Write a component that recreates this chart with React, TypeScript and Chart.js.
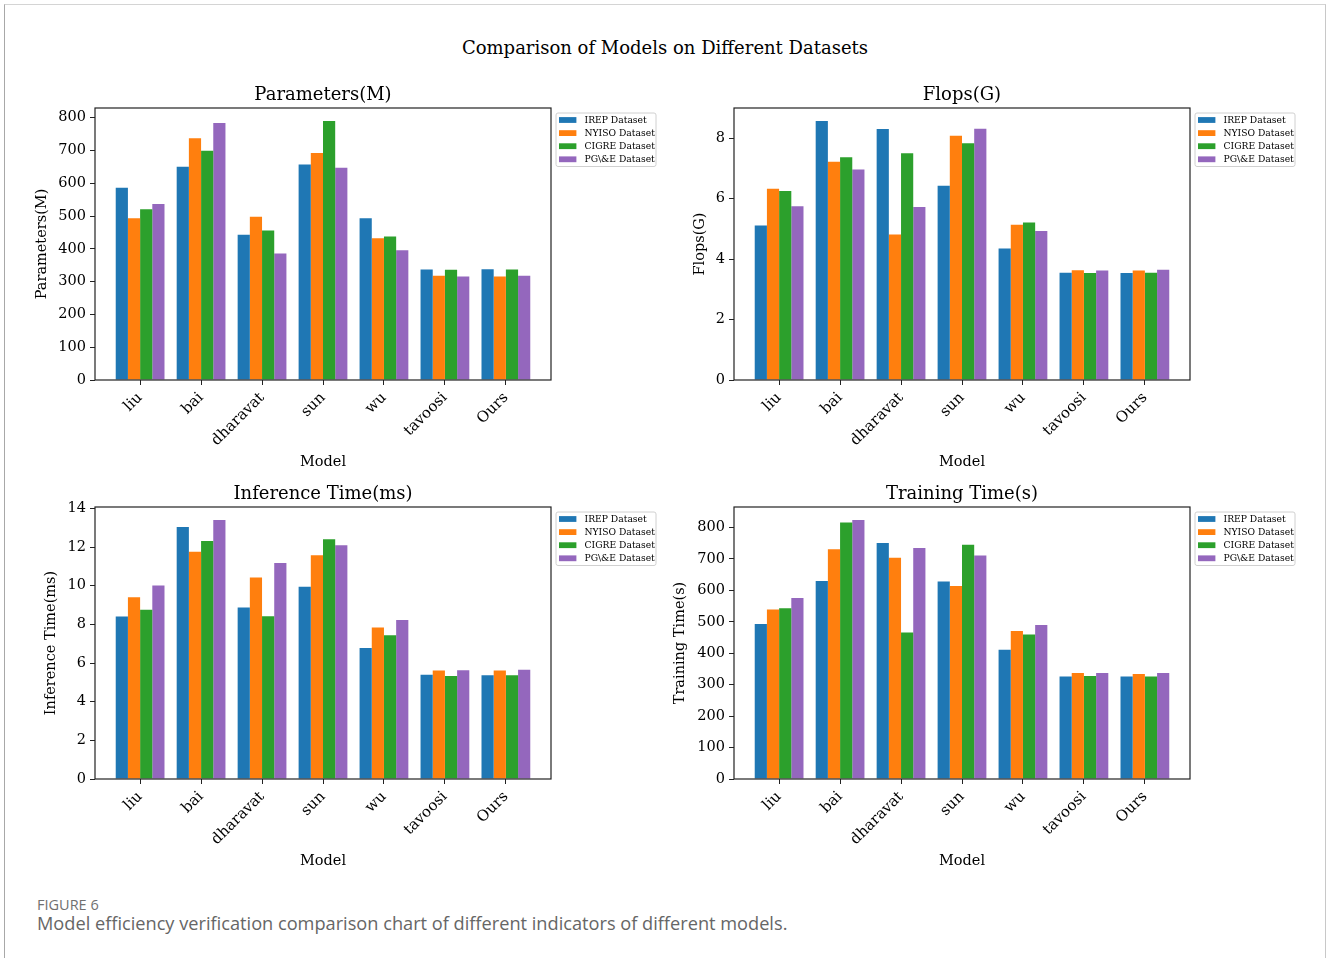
import React, { useEffect, useRef } from "react";
import { Chart, registerables } from "chart.js";

Chart.register(...registerables);

// ---------- data ----------
const models = ["liu", "bai", "dharavat", "sun", "wu", "tavoosi", "Ours"];
const datasetNames = ["IREP Dataset", "NYISO Dataset", "CIGRE Dataset", "PG\\&E Dataset"];
const colors = ["#1f77b4", "#ff7f0e", "#2ca02c", "#9467bd"];

const paramsIREP = [586, 650, 443, 657, 493, 337, 338];
const paramsNYISO = [493, 737, 498, 692, 432, 318, 316];
const paramsCIGRE = [521, 699, 456, 790, 438, 336, 337];
const paramsPGE = [537, 784, 386, 647, 396, 316, 318];

const flopsIREP = [5.11, 8.57, 8.3, 6.43, 4.35, 3.55, 3.54];
const flopsNYISO = [6.33, 7.22, 4.81, 8.08, 5.14, 3.63, 3.62];
const flopsCIGRE = [6.25, 7.37, 7.5, 7.83, 5.21, 3.54, 3.55];
const flopsPGE = [5.75, 6.96, 5.72, 8.31, 4.93, 3.62, 3.65];

const infIREP = [8.4, 13.04, 8.87, 9.94, 6.77, 5.39, 5.37];
const infNYISO = [9.4, 11.76, 10.42, 11.57, 7.84, 5.61, 5.61];
const infCIGRE = [8.76, 12.31, 8.42, 12.4, 7.43, 5.33, 5.37];
const infPGE = [10.01, 13.4, 11.17, 12.09, 8.23, 5.63, 5.65];

const trainIREP = [493, 630, 751, 628, 411, 326, 326];
const trainNYISO = [539, 731, 704, 614, 471, 337, 334];
const trainCIGRE = [543, 816, 466, 745, 460, 328, 326];
const trainPGE = [576, 824, 735, 711, 490, 337, 337];

const paramTicks = [0, 100, 200, 300, 400, 500, 600, 700, 800];
const flopsTicks = [0, 2, 4, 6, 8];
const infTicks = [0, 2, 4, 6, 8, 10, 12, 14];
const trainTicks = [0, 100, 200, 300, 400, 500, 600, 700, 800];

// ---------- styling ----------
const SERIF = "'DejaVu Serif', serif";
const CW = 664;
const CH = 414;

const framePlugin = {
  id: "frame",
  afterDatasetsDraw(chart: any) {
    const { ctx, chartArea } = chart;
    ctx.save();
    ctx.strokeStyle = "#222";
    ctx.lineWidth = 1.2;
    ctx.strokeRect(chartArea.left, chartArea.top, chartArea.right - chartArea.left, chartArea.bottom - chartArea.top);
    ctx.restore();
  },
};

const legendPlugin = {
  id: "sideLegend",
  afterDraw(chart: any) {
    const { ctx, chartArea } = chart;
    const bx = chartArea.right + 4.5;
    const by = chartArea.top + 4.5;
    const bw = 100;
    const bh = 53.5;
    ctx.save();
    ctx.fillStyle = "rgba(255,255,255,0.8)";
    ctx.strokeStyle = "#d0d0d0";
    ctx.lineWidth = 1;
    ctx.beginPath();
    (ctx as any).roundRect(bx + 0.5, by + 0.5, bw, bh, 2);
    ctx.fill();
    ctx.stroke();
    ctx.font = `9.2px ${SERIF}`;
    ctx.textBaseline = "middle";
    ctx.textAlign = "left";
    chart.data.datasets.forEach((ds: any, k: number) => {
      const ry = by + 7.5 + k * 13.1;
      ctx.fillStyle = ds.backgroundColor;
      ctx.fillRect(bx + 3.5, ry - 2.9, 17.4, 5.8);
      ctx.fillStyle = "#000";
      ctx.fillText(ds.label, bx + 29, ry + 0.5);
    });
    ctx.restore();
  },
};

type PanelProps = {
  title: string;
  yLabel: string;
  series: number[][];
  yTicks: number[];
  left: number;
  top: number;
  yAxisW: number;
  padRight: number;
  yTitlePad: number;
};

function Panel({ title, yLabel, series, yTicks, left, top, yAxisW, padRight, yTitlePad }: PanelProps) {
  const ref = useRef<HTMLCanvasElement | null>(null);
  useEffect(() => {
    if (!ref.current) return;
    const allVals = series.flat();
    const yMax = Math.max(...allVals) * 1.05;
    const tickFont = { family: SERIF, size: 14.5, weight: "normal" as const };
    const chart = new Chart(ref.current, {
      type: "bar",
      data: {
        labels: models.map((_, i) => i),
        datasets: series.map((d, k) => ({
          label: datasetNames[k],
          data: d,
          backgroundColor: colors[k],
          borderWidth: 0,
          categoryPercentage: 0.8,
          barPercentage: 1.0,
        })),
      },
      options: {
        animation: false,
        responsive: false,
        maintainAspectRatio: false,
        layout: { padding: { left: 0, right: padRight, top: 0, bottom: 0 } },
        plugins: {
          legend: { display: false },
          tooltip: { enabled: false },
          title: {
            display: true,
            text: title,
            fullSize: false,
            color: "#000",
            font: { family: SERIF, size: 18, weight: "normal" },
            padding: { top: 18.2, bottom: 2.2 },
          },
        },
        scales: {
          x: {
            type: "linear",
            min: -0.74,
            max: 6.74,
            offset: false,
            afterBuildTicks: (s: any) => {
              s.ticks = models.map((_, i) => ({ value: i }));
            },
            afterFit: (s: any) => {
              s.height = CH - 314;
            },
            grid: { display: true, offset: false, drawOnChartArea: false, drawTicks: true, tickLength: 5, color: "#222", lineWidth: 1 },
            border: { display: false },
            ticks: {
              autoSkip: false,
              maxRotation: 45,
              minRotation: 45,
              padding: 4,
              color: "#000",
              font: { family: SERIF, size: 15, weight: "normal" },
              callback: (v: any) => models[v as number] ?? "",
            },
            title: {
              display: true,
              text: "Model",
              color: "#000",
              font: tickFont,
              padding: { top: 0, bottom: 9.5 },
            },
          },
          y: {
            type: "linear",
            min: 0,
            max: yMax,
            afterBuildTicks: (s: any) => {
              s.ticks = yTicks.map((v) => ({ value: v }));
            },
            afterFit: (s: any) => {
              s.width = yAxisW;
            },
            grid: { display: true, drawOnChartArea: false, drawTicks: true, tickLength: 5, color: "#222", lineWidth: 1 },
            border: { display: false },
            ticks: {
              padding: 4,
              color: "#000",
              font: tickFont,
              callback: (v: any) => String(v),
            },
            title: {
              display: true,
              text: yLabel,
              color: "#000",
              font: tickFont,
              padding: { top: yTitlePad, bottom: 0 },
            },
          },
        },
      } as any,
      plugins: [framePlugin, legendPlugin],
    });
    return () => chart.destroy();
  }, []);
  return (
    <canvas
      ref={ref}
      width={CW}
      height={CH}
      style={{ position: "absolute", left, top, width: CW, height: CH }}
    />
  );
}

export default function App() {
  return (
    <div style={{ position: "fixed", left: 0, top: 0, width: 1328, height: 958, background: "#fff", overflow: "hidden" }}>
      <div
        style={{
          position: "absolute",
          left: 4,
          top: 4,
          width: 1322,
          height: 970,
          borderTop: "1px solid #d4d4d4",
          borderLeft: "1px solid #a8a8a8",
          borderRight: "1px solid #c8c8c8",
          boxSizing: "border-box",
        }}
      />
      <div
        style={{
          position: "absolute",
          left: 665,
          top: 37,
          transform: "translateX(-50%)",
          fontFamily: SERIF,
          fontSize: 18,
          lineHeight: "22px",
          whiteSpace: "nowrap",
          color: "#000",
        }}
      >
        Comparison of Models on Different Datasets
      </div>
      <Panel title="Parameters(M)" yLabel="Parameters(M)" series={[paramsIREP, paramsNYISO, paramsCIGRE, paramsPGE]} yTicks={paramTicks} left={0} top={66} yAxisW={95} padRight={113} yTitlePad={33.8} />
      <Panel title="Flops(G)" yLabel="Flops(G)" series={[flopsIREP, flopsNYISO, flopsCIGRE, flopsPGE]} yTicks={flopsTicks} left={664} top={66} yAxisW={70} padRight={138} yTitlePad={27.8} />
      <Panel title="Inference Time(ms)" yLabel="Inference Time(ms)" series={[infIREP, infNYISO, infCIGRE, infPGE]} yTicks={infTicks} left={0} top={465} yAxisW={95} padRight={113} yTitlePad={42.8} />
      <Panel title="Training Time(s)" yLabel="Training Time(s)" series={[trainIREP, trainNYISO, trainCIGRE, trainPGE]} yTicks={trainTicks} left={664} top={465} yAxisW={70} padRight={138} yTitlePad={7.8} />
      <div
        style={{
          position: "absolute",
          left: 37,
          top: 895,
          fontFamily: "'Open Sans', sans-serif",
          fontSize: 14.5,
          fontWeight: 500,
          lineHeight: "20px",
          color: "#707070",
        }}
      >
        FIGURE 6
      </div>
      <div
        style={{
          position: "absolute",
          left: 37,
          top: 911,
          fontFamily: "'Open Sans', sans-serif",
          fontSize: 18.2,
          fontWeight: 400,
          lineHeight: "24px",
          color: "#666",
          whiteSpace: "nowrap",
        }}
      >
        Model efficiency verification comparison chart of different indicators of different models.
      </div>
    </div>
  );
}
